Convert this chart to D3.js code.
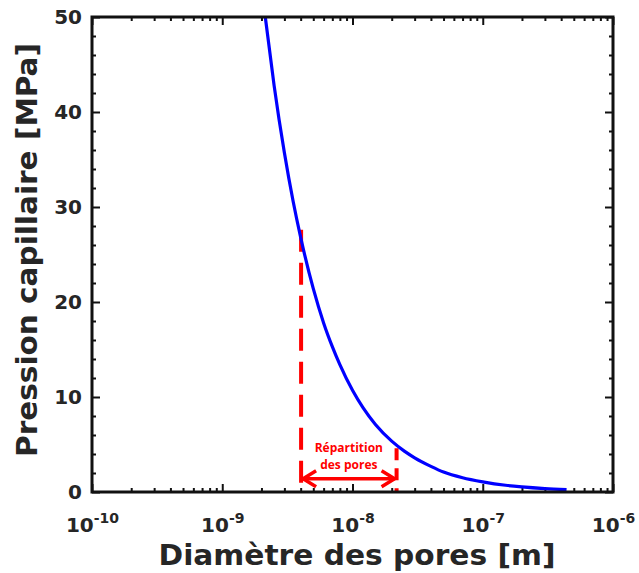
<!DOCTYPE html>
<html>
<head>
<meta charset="utf-8">
<script src="https://cdn.jsdelivr.net/npm/d3@7"></script>
<style>
  body { margin: 0; background: #fff; }
  svg { display: block; }
</style>
</head>
<body>
<script>
// Chart size and plot box
var width = 639, height = 573;
var margin = {left: 92, top: 17, right: 26, bottom: 81};
var w = width - margin.left - margin.right;
var h = height - margin.top - margin.bottom;

// Curve: pore diameter [m] vs capillary pressure [MPa]
var diameters = [2.14e-9, 2.5e-9, 3e-9, 3.5e-9, 4e-9, 5e-9, 6e-9, 7e-9, 8e-9, 1e-8, 1.2e-8, 1.5e-8,
  2e-8, 2.5e-8, 3e-8, 4e-8, 5e-8, 7e-8, 1e-7, 1.5e-7, 2e-7, 3e-7, 4.4e-7];
var pressures = [50, 42.8, 35.7, 30.6, 26.8, 21.4, 17.8, 15.3, 13.4, 10.7, 8.9, 7.1,
  5.35, 4.3, 3.6, 2.7, 2.1, 1.5, 1.07, 0.71, 0.54, 0.36, 0.24];

// Tick values / labels
var xExponents = [-10, -9, -8, -7, -6];
var yTicks = [0, 10, 20, 30, 40, 50];
var yMinorTicks = [2, 4, 6, 8, 12, 14, 16, 18, 22, 24, 26, 28, 32, 34, 36, 38, 42, 44, 46, 48];

// Annotation "Répartition des pores" (data units)
var rangeMin = 4.03e-9, rangeMax = 2.18e-8;
var rangeTopLeft = 27.6, rangeTopRight = 4.6;
var arrowLevel = 1.4;
var annotationLines = ["Répartition", "des pores"];

var textColor = "#262626";
var fontFamily = "'DejaVu Sans', Verdana, sans-serif";

var svg = d3.select("body").append("svg")
  .attr("width", width)
  .attr("height", height);

var g = svg.append("g").attr("transform", "translate(" + margin.left + "," + margin.top + ")");

var x = d3.scaleLog().domain([1e-10, 1e-6]).range([0, w]);
var y = d3.scaleLinear().domain([0, 50]).range([h, 0]);

// minor ticks on the log axis (2..9 in every decade)
var xMinor = [];
xExponents.slice(0, -1).forEach(function (e) {
  for (var m = 2; m <= 9; m++) xMinor.push(m * Math.pow(10, e));
});
var xMajor = xExponents.map(function (e) { return Math.pow(10, e); });

function styleAxis(sel) {
  sel.select(".domain").remove();
  sel.selectAll("line").attr("stroke", "#111").attr("stroke-width", 2);
}

// bottom + top ticks
g.append("g").attr("transform", "translate(0," + h + ")")
  .call(d3.axisBottom(x).tickValues(xMinor).tickSize(-4).tickFormat(""))
  .call(styleAxis);
var xAxis = g.append("g").attr("transform", "translate(0," + h + ")")
  .call(d3.axisBottom(x).tickValues(xMajor).tickSize(-8).tickFormat(""))
  .call(styleAxis);
g.append("g")
  .call(d3.axisTop(x).tickValues(xMinor).tickSize(-4).tickFormat(""))
  .call(styleAxis);
g.append("g")
  .call(d3.axisTop(x).tickValues(xMajor).tickSize(-8).tickFormat(""))
  .call(styleAxis);

// left + right ticks
var yAxis = g.append("g")
  .call(d3.axisLeft(y).tickValues(yTicks).tickSize(-8).tickPadding(10))
  .call(styleAxis);
g.append("g")
  .call(d3.axisLeft(y).tickValues(yMinorTicks).tickSize(-4).tickFormat(""))
  .call(styleAxis);
g.append("g").attr("transform", "translate(" + w + ",0)")
  .call(d3.axisRight(y).tickValues(yTicks).tickSize(-8).tickFormat(""))
  .call(styleAxis);
g.append("g").attr("transform", "translate(" + w + ",0)")
  .call(d3.axisRight(y).tickValues(yMinorTicks).tickSize(-4).tickFormat(""))
  .call(styleAxis);

yAxis.selectAll("text")
  .attr("fill", textColor)
  .style("font-family", fontFamily)
  .style("font-weight", "bold")
  .style("font-size", "20px");

// x tick labels as 10^n with superscript
xAxis.selectAll(".tick").each(function (d, i) {
  var t = d3.select(this).append("text")
    .attr("y", 40)
    .attr("text-anchor", "middle")
    .attr("fill", textColor)
    .style("font-family", fontFamily)
    .style("font-weight", "bold")
    .style("font-size", "20px");
  t.append("tspan").text("10");
  t.append("tspan").attr("dy", -9).style("font-size", "14px").text(xExponents[i]);
});

// the curve
var data = diameters.map(function (d, i) { return {d: d, p: pressures[i]}; });
var line = d3.line()
  .x(function (d) { return x(d.d); })
  .y(function (d) { return y(d.p); })
  .curve(d3.curveMonotoneX);

// red dashed limits
var red = "#ff0000";
g.append("line")
  .attr("x1", x(rangeMin)).attr("x2", x(rangeMin))
  .attr("y1", y(rangeTopLeft)).attr("y2", y(0))
  .attr("stroke", red).attr("stroke-width", 4).attr("stroke-dasharray", "22,11");
g.append("line")
  .attr("x1", x(rangeMax)).attr("x2", x(rangeMax))
  .attr("y1", y(rangeTopRight)).attr("y2", y(0))
  .attr("stroke", red).attr("stroke-width", 4).attr("stroke-dasharray", "12,8");

g.append("path").datum(data)
  .attr("d", line)
  .attr("fill", "none")
  .attr("stroke", "#0000ff")
  .attr("stroke-width", 3.2);

// double arrow
var ax1 = x(rangeMin) + 2, ax2 = x(rangeMax) - 2, ay = y(arrowLevel);
g.append("line")
  .attr("x1", ax1).attr("x2", ax2).attr("y1", ay).attr("y2", ay)
  .attr("stroke", red).attr("stroke-width", 3.5);
g.append("path")
  .attr("d", "M" + (ax1 + 13) + "," + (ay - 8) + "L" + ax1 + "," + ay + "L" + (ax1 + 13) + "," + (ay + 8)
    + "M" + (ax2 - 13) + "," + (ay - 8) + "L" + ax2 + "," + ay + "L" + (ax2 - 13) + "," + (ay + 8))
  .attr("fill", "none").attr("stroke", red).attr("stroke-width", 3.5);

var midX = (x(rangeMin) + x(rangeMax)) / 2;
g.append("text")
  .attr("x", midX).attr("y", ay - 27)
  .attr("text-anchor", "middle")
  .attr("fill", red)
  .style("font-family", "'Open Sans', sans-serif")
  .style("font-weight", "bold")
  .style("font-size", "12px")
  .selectAll("tspan").data(annotationLines).join("tspan")
  .attr("x", midX)
  .attr("dy", function (d, i) { return i ? 17 : 0; })
  .text(function (d) { return d; });

// box
g.append("rect")
  .attr("width", w).attr("height", h)
  .attr("fill", "none").attr("stroke", "#111").attr("stroke-width", 3);

// axis titles
svg.append("text")
  .attr("x", 357).attr("y", 565)
  .attr("text-anchor", "middle")
  .attr("fill", textColor)
  .attr("textLength", 397)
  .attr("lengthAdjust", "spacingAndGlyphs")
  .style("font-family", fontFamily)
  .style("font-weight", "bold")
  .style("font-size", "28px")
  .text("Diamètre des pores [m]");

svg.append("text")
  .attr("transform", "translate(37,250) rotate(-90)")
  .attr("text-anchor", "middle")
  .attr("fill", textColor)
  .attr("textLength", 414)
  .attr("lengthAdjust", "spacingAndGlyphs")
  .style("font-family", fontFamily)
  .style("font-weight", "bold")
  .style("font-size", "28px")
  .text("Pression capillaire [MPa]");
</script>
</body>
</html>
